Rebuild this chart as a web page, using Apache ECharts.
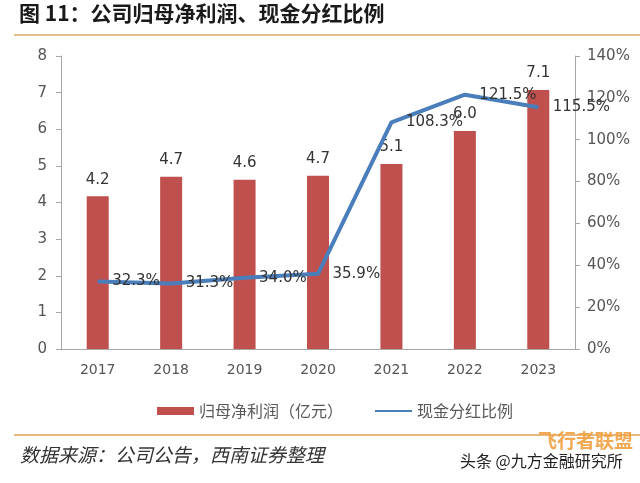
<!DOCTYPE html>
<html><head><meta charset="utf-8">
<script src="https://cdn.jsdelivr.net/npm/echarts@6/dist/echarts.min.js"></script>
<style>html,body{margin:0;padding:0;background:#fff}#c{width:640px;height:483px}</style>
</head><body><div id="c"></div>
<script>
const categories = ['2017','2018','2019','2020','2021','2022','2023'];
const profit = [4.17, 4.70, 4.62, 4.73, 5.05, 5.95, 7.07];
const profitLabels = ['4.2','4.7','4.6','4.7','5.1','6.0','7.1'];
const payout = [32.3, 31.3, 34.0, 35.9, 108.3, 121.5, 115.5];
const leftTicks = [0,1,2,3,4,5,6,7,8];
const rightTicks = [0,20,40,60,80,100,120,140];

const chart = echarts.init(document.getElementById('c'), null, {renderer:'canvas'});
const font = '"Noto Sans CJK SC", "Noto Sans", sans-serif';
const numFont = '"DejaVu Sans", sans-serif';
chart.setOption({
  animation:false,
  backgroundColor:'#fff',
  textStyle:{fontFamily:font},
  graphic:[
    {type:'text', left:19, top:3, style:{text:'图 11：公司归母净利润、现金分红比例', font:'bold 21px "Noto Sans CJK SC"', fill:'#1a1a1a'}},
    {type:'line', shape:{x1:14,y1:35,x2:640,y2:35}, style:{stroke:'#D9A860', lineWidth:1.5}},
    {type:'line', shape:{x1:14,y1:435,x2:640,y2:435}, style:{stroke:'#E0A050', lineWidth:1.5}},
    {type:'text', left:20, top:445, style:{text:'数据来源：公司公告，西南证券整理', font:'italic 19px "Noto Sans CJK SC"', fill:'#333'}},
    {type:'text', left:538, top:431, style:{text:'飞行者联盟', font:'bold 19px "Noto Sans CJK SC"', fill:'#F0A040', opacity:0.9}},
    {type:'text', left:460, top:453, style:{text:'头条 @九方金融研究所', font:'16px "Noto Sans CJK SC"', fill:'#222'}}
  ],
  legend:{
    top:398, left:152, itemGap:32, itemWidth:37, itemHeight:8,
    textStyle:{fontSize:16, color:'#595959', fontFamily:font},
    data:[{name:'归母净利润（亿元）', icon:'rect'},{name:'现金分红比例', icon:'path://M0,3 L37,3 L37,5 L0,5 Z'}]
  },
  grid:{left:61, right:65, top:56, bottom:134},
  xAxis:{
    type:'category', data:categories,
    axisLine:{lineStyle:{color:'#A6A6A6', width:1}},
    axisTick:{show:false},
    axisLabel:{color:'#555', fontSize:14, margin:14, fontFamily:numFont}
  },
  yAxis:[
    {type:'value', min:0, max:8, interval:1,
     axisLine:{show:true, lineStyle:{color:'#A6A6A6'}},
     axisTick:{show:true, length:5, lineStyle:{color:'#A6A6A6'}},
     splitLine:{show:false},
     axisLabel:{color:'#555', fontSize:15, margin:14, fontFamily:numFont,
       formatter:v=>leftTicks.includes(v)?String(v):''}},
    {type:'value', min:0, max:140, interval:20, position:'right',
     axisLine:{show:true, lineStyle:{color:'#A6A6A6'}},
     axisTick:{show:true, length:5, lineStyle:{color:'#A6A6A6'}},
     splitLine:{show:false},
     axisLabel:{color:'#555', fontSize:15, margin:12, fontFamily:numFont,
       formatter:v=>rightTicks.includes(v)?v+'%':''}}
  ],
  series:[
    {name:'归母净利润（亿元）', type:'bar', data:profit, barWidth:22, yAxisIndex:0,
     itemStyle:{color:'#C0504D'},
     label:{show:true, position:'top', distance:9, fontSize:15, color:'#333', fontFamily:numFont,
       formatter:p=>profitLabels[p.dataIndex]}},
    {name:'现金分红比例', type:'line', data:payout, yAxisIndex:1,
     symbol:'circle', symbolSize:1, showSymbol:true,
     lineStyle:{color:'#4A7EBB', width:4}, itemStyle:{color:'#4A7EBB'},
     labelLayout:{hideOverlap:false},
     label:{show:true, position:'right', distance:14, offset:[0,2], fontSize:15, color:'#333', fontFamily:numFont,
       formatter:p=>p.value.toFixed(1)+'%'}}
  ]
});
</script></body></html>
